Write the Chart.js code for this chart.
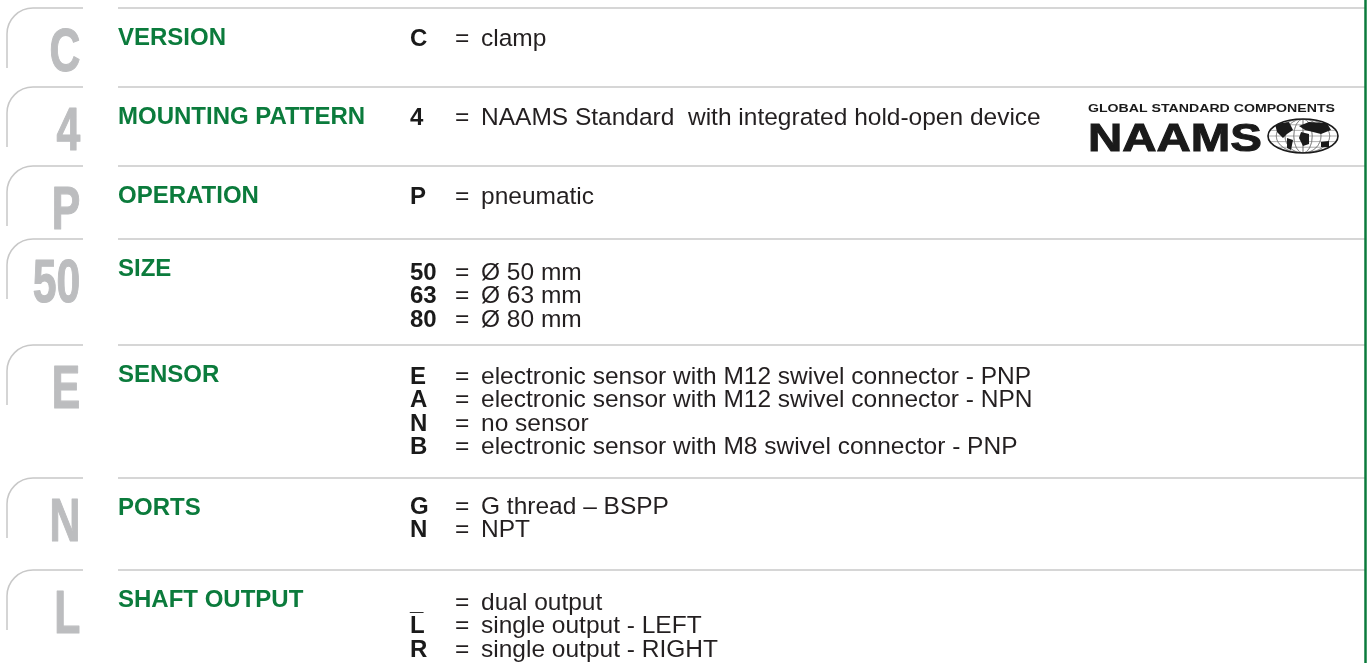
<!DOCTYPE html>
<html>
<head>
<meta charset="utf-8">
<script src="https://cdn.jsdelivr.net/npm/chart.js@4"></script>
<style>
  html, body { margin: 0; padding: 0; background: #fff; }
  #wrap { width: 1367px; height: 663px; position: relative; }
</style>
</head>
<body>
<div id="wrap"><canvas id="orderCode"></canvas></div>
<script>
// ordering code table data
const tabCodes = ["C", "4", "P", "50", "E", "N", "L"];
const sectionTitles = ["VERSION", "MOUNTING PATTERN", "OPERATION", "SIZE", "SENSOR", "PORTS", "SHAFT OUTPUT"];
const optionCodes = [
  ["C"],
  ["4"],
  ["P"],
  ["50", "63", "80"],
  ["E", "A", "N", "B"],
  ["G", "N"],
  ["_", "L", "R"],
];
const optionTexts = [
  ["clamp"],
  ["NAAMS Standard  with integrated hold-open device"],
  ["pneumatic"],
  ["Ø 50 mm", "Ø 63 mm", "Ø 80 mm"],
  [
    "electronic sensor with M12 swivel connector - PNP",
    "electronic sensor with M12 swivel connector - NPN",
    "no sensor",
    "electronic sensor with M8 swivel connector - PNP",
  ],
  ["G thread \u2013 BSPP", "NPT"],
  ["dual output", "single output - LEFT", "single output - RIGHT"],
];
const logoTagline = "GLOBAL STANDARD COMPONENTS";
const logoName = "NAAMS";

// layout (page units, same as pixels)
const rowTops = [8, 87, 166, 239, 345, 478, 570];
const optionOffsets = [38, 38, 38, 41, 39, 36, 40];
const lineStep = 23.3;

const GREEN = "#0b7b3c";
const RULE = "#c8c8c8";
const TAB_GREY = "#bcbdbf";
const FONT = "'Liberation Sans', Arial, Helvetica, sans-serif";

const tablePlugin = {
  id: "orderTable",
  afterDraw(chart) {
    const { ctx } = chart;
    const xs = chart.scales.x;
    const ys = chart.scales.y;
    const px = (v) => xs.getPixelForValue(v);
    const py = (v) => ys.getPixelForValue(v);

    ctx.save();
    ctx.textBaseline = "alphabetic";

    sectionTitles.forEach((title, i) => {
      const top = rowTops[i];

      // tab outline with rounded corner
      ctx.strokeStyle = RULE;
      ctx.lineWidth = 1.5;
      ctx.beginPath();
      ctx.moveTo(px(7), py(top + 60));
      ctx.lineTo(px(7), py(top + 26));
      ctx.arcTo(px(7), py(top), px(33), py(top), 26);
      ctx.lineTo(px(83), py(top));
      ctx.stroke();

      // row rule
      ctx.beginPath();
      ctx.moveTo(px(118), py(top));
      ctx.lineTo(px(1365), py(top));
      ctx.stroke();

      // big grey code letter (condensed bold look)
      ctx.save();
      ctx.translate(px(81), py(top + 63));
      ctx.scale(0.7, 1);
      ctx.fillStyle = TAB_GREY;
      ctx.strokeStyle = TAB_GREY;
      ctx.lineWidth = 1.2;
      ctx.lineJoin = "round";
      ctx.font = "bold 61px " + FONT;
      ctx.textAlign = "right";
      ctx.fillText(tabCodes[i], -1, -0.5);
      ctx.strokeText(tabCodes[i], -1, -0.5);
      ctx.restore();

      // green section title
      ctx.fillStyle = GREEN;
      ctx.font = "bold 24px " + FONT;
      ctx.textAlign = "left";
      ctx.fillText(title, px(118), py(top + 37));

      // options
      optionCodes[i].forEach((code, j) => {
        const base = top + optionOffsets[i] + j * lineStep;
        ctx.fillStyle = "#1a1a1a";
        ctx.font = "bold 24px " + FONT;
        ctx.fillText(code, px(410), py(base));
        ctx.fillStyle = "#231f20";
        ctx.font = "24.5px " + FONT;
        ctx.fillText("=", px(455), py(base));
        ctx.fillText(optionTexts[i][j], px(481), py(base));
      });
    });

    // NAAMS logo
    ctx.fillStyle = "#1a1a1a";
    ctx.font = "bold 10px " + FONT;
    let w = ctx.measureText(logoTagline).width;
    ctx.save();
    ctx.translate(px(1088), py(112));
    ctx.scale(247 / w, 1);
    ctx.fillText(logoTagline, 0, 0);
    ctx.restore();

    ctx.font = "900 39px " + FONT;
    w = ctx.measureText(logoName).width;
    ctx.save();
    ctx.translate(px(1088), py(151));
    ctx.scale(174 / w, 1);
    ctx.strokeStyle = "#1a1a1a";
    ctx.lineWidth = 1;
    ctx.fillText(logoName, 0, 0);
    ctx.strokeText(logoName, 0, 0);
    ctx.restore();

    // globe
    const gx = px(1303), gy = py(136), rx = 35, ry = 17;
    ctx.save();
    ctx.beginPath();
    ctx.ellipse(gx, gy, rx, ry, 0, 0, Math.PI * 2);
    ctx.fillStyle = "#fff";
    ctx.fill();
    ctx.clip();
    ctx.strokeStyle = "#777";
    ctx.lineWidth = 0.6;
    [-0.75, -0.5, -0.25, 0, 0.25, 0.5, 0.75].forEach((f) => {
      ctx.beginPath();
      ctx.ellipse(gx, gy, Math.abs(f) * rx + 0.5, ry, 0, 0, Math.PI * 2);
      ctx.stroke();
    });
    [-0.66, -0.33, 0, 0.33, 0.66].forEach((f) => {
      ctx.beginPath();
      ctx.moveTo(gx - rx, gy + f * ry);
      ctx.lineTo(gx + rx, gy + f * ry);
      ctx.stroke();
    });
    // rough continents
    ctx.fillStyle = "#1a1a1a";
    const blobs = [
      [[-28, -12], [-14, -14], [-10, -6], [-16, -2], [-20, 2], [-26, -4]],
      [[-16, 2], [-10, 4], [-12, 14], [-16, 12]],
      [[-4, -10], [6, -14], [24, -13], [28, -6], [18, -2], [10, -4], [2, -6]],
      [[-2, -4], [6, -2], [6, 8], [0, 10], [-4, 2]],
      [[18, 6], [26, 5], [26, 11], [18, 11]],
    ];
    blobs.forEach((pts) => {
      ctx.beginPath();
      pts.forEach(([dx, dy], k) => {
        if (k === 0) ctx.moveTo(gx + dx, gy + dy);
        else ctx.lineTo(gx + dx, gy + dy);
      });
      ctx.closePath();
      ctx.fill();
    });
    ctx.restore();
    ctx.beginPath();
    ctx.ellipse(gx, gy, rx, ry, 0, 0, Math.PI * 2);
    ctx.strokeStyle = "#1a1a1a";
    ctx.lineWidth = 1.6;
    ctx.stroke();

    // green right border
    ctx.strokeStyle = GREEN;
    ctx.lineWidth = 2.5;
    ctx.beginPath();
    ctx.moveTo(px(1365.5), py(0));
    ctx.lineTo(px(1365.5), py(663));
    ctx.stroke();

    ctx.restore();
  },
};

new Chart(document.getElementById("orderCode"), {
  type: "scatter",
  data: { datasets: [{ data: [], pointRadius: 0 }] },
  options: {
    responsive: true,
    maintainAspectRatio: false,
    animation: false,
    layout: { padding: 0 },
    plugins: { legend: { display: false }, tooltip: { enabled: false } },
    scales: {
      x: { type: "linear", min: 0, max: 1367, display: false },
      y: { type: "linear", min: 0, max: 663, reverse: true, display: false },
    },
  },
  plugins: [tablePlugin],
});
</script>
</body>
</html>
